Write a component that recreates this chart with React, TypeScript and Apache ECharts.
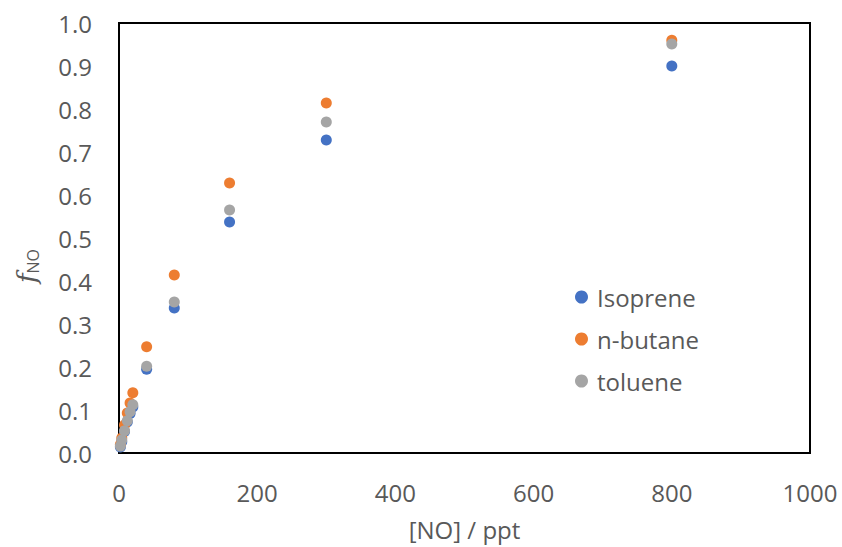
import React, { useEffect, useRef } from "react";
import * as echarts from "echarts";

// [NO] in ppt for each measurement
const noPpt = [2, 4, 8, 12, 16, 20, 40, 80, 160, 300, 800];

// fraction of RO2 reacting with NO
const isoprene = [0.014, 0.026, 0.05, 0.072, 0.092, 0.107, 0.195, 0.337, 0.537, 0.728, 0.9];
const nButane = [0.02, 0.035, 0.065, 0.093, 0.116, 0.14, 0.247, 0.414, 0.628, 0.814, 0.96];
const toluene = [0.016, 0.03, 0.052, 0.075, 0.096, 0.112, 0.202, 0.351, 0.565, 0.77, 0.951];

const seriesNames = ["Isoprene", "n-butane", "toluene"];
const seriesColors = ["#4472C4", "#ED7D31", "#A5A5A5"];

const FONT = "Open Sans";
const TEXT = "#595959";

export default function App() {
  const ref = useRef<HTMLDivElement>(null);

  useEffect(() => {
    if (!ref.current) return;
    const chart = echarts.init(ref.current, undefined, { renderer: "svg" });
    const all = [isoprene, nButane, toluene];
    chart.setOption({
      animation: false,
      backgroundColor: "#fff",
      textStyle: { fontFamily: FONT },
      grid: {
        left: 119,
        right: 32,
        top: 23,
        bottom: 94,
        show: true,
        borderColor: "#000",
        borderWidth: 2,
        backgroundColor: "transparent",
      },
      legend: {
        orient: "vertical",
        left: 570,
        top: 280,
        itemGap: 18,
        itemWidth: 13,
        itemHeight: 13,
        icon: "circle",
        textStyle: { fontFamily: FONT, fontSize: 24, color: TEXT, padding: [0, 0, 0, 4] },
        data: seriesNames,
      },
      xAxis: {
        type: "value",
        min: 0,
        max: 1000,
        interval: 200,
        name: "[NO] / ppt",
        nameLocation: "middle",
        nameGap: 64,
        nameTextStyle: { fontFamily: FONT, fontSize: 24, color: TEXT },
        axisLine: { show: true, lineStyle: { color: "#000", width: 2 } },
        axisTick: { show: false },
        splitLine: { show: false },
        axisLabel: {
          fontFamily: FONT,
          fontSize: 24,
          color: TEXT,
          margin: 27,
          formatter: (v: number) => String(v),
        },
      },
      yAxis: {
        type: "value",
        min: 0,
        max: 1,
        interval: 0.1,
        name: "{f|f}{s|NO}",
        nameLocation: "middle",
        nameGap: 78,
        nameRotate: 90,
        nameTextStyle: {
          color: TEXT,
          padding: [0, 56, 0, 0],
          rich: {
            f: { fontFamily: "DejaVu Serif", fontStyle: "italic", fontSize: 26, color: TEXT },
            s: { fontFamily: FONT, fontSize: 16, color: TEXT, padding: [12, 0, 0, 0] },
          },
        },
        axisLine: { show: true, lineStyle: { color: "#000", width: 2 } },
        axisTick: { show: false },
        splitLine: { show: false },
        axisLabel: {
          fontFamily: FONT,
          fontSize: 24,
          color: TEXT,
          margin: 27,
          formatter: (v: number) => v.toFixed(1),
        },
      },
      series: seriesNames.map((name, i) => ({
        name,
        type: "scatter",
        symbol: "circle",
        symbolSize: 11,
        itemStyle: { color: seriesColors[i], opacity: 1 },
        data: noPpt.map((x, j) => [x, all[i][j]]),
      })),
    });
    return () => chart.dispose();
  }, []);

  return (
    <div
      ref={ref}
      style={{ position: "fixed", left: 0, top: 0, width: 842, height: 547 }}
    />
  );
}
